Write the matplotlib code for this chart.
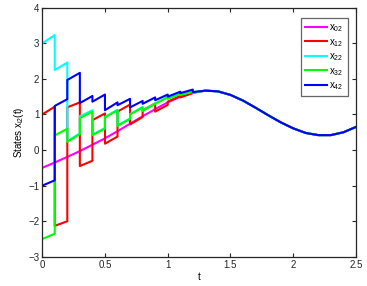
import matplotlib
matplotlib.use('Agg')
import matplotlib.pyplot as plt

plt.rcParams['font.family'] = ['Liberation Sans', 'DejaVu Sans']
plt.rcParams['mathtext.fontset'] = 'custom'
plt.rcParams['mathtext.rm'] = 'Liberation Sans'
plt.rcParams['mathtext.it'] = 'Liberation Sans'

# leader trajectory x02
t_lead = [0.0, 0.1, 0.2, 0.3, 0.4, 0.5, 0.6, 0.7, 0.8, 0.9, 1.0, 1.1, 1.2,
          1.3, 1.4, 1.5, 1.6, 1.7, 1.8, 1.9, 2.0, 2.1, 2.2, 2.3, 2.4, 2.5]
x0 = [-0.50, -0.35, -0.19, -0.03, 0.15, 0.33, 0.53, 0.74, 0.95, 1.15, 1.34, 1.50, 1.61,
      1.67, 1.65, 1.55, 1.39, 1.19, 0.98, 0.78, 0.61, 0.48, 0.42, 0.42, 0.50, 0.65]

# impulse instants and follower values just before / after each jump
t_imp = [0.1, 0.2, 0.3, 0.4, 0.5, 0.6, 0.7, 0.8, 0.9, 1.0, 1.1, 1.2]

red_start = 1.00
red_before = [1.22, -2.00, 1.34, -0.30, 1.03, 0.38, 1.28, 0.93, 1.31, 1.27, 1.52, 1.60]
red_after = [-2.13, 1.20, -0.45, 0.84, 0.18, 1.08, 0.72, 1.12, 1.08, 1.36, 1.48, 1.61]

cyan_start = 3.00
cyan_before = [3.23, 2.46, 0.47, 1.12, 0.62, 1.13, 0.89, 1.21, 1.31, 1.49, 1.59, 1.64]
cyan_after = [2.25, 0.25, 0.95, 0.44, 0.93, 0.69, 1.01, 1.11, 1.31, 1.45, 1.56, 1.62]

green_start = -2.50
green_before = [-2.35, 0.60, 0.45, 1.08, 0.60, 1.12, 0.88, 1.20, 1.30, 1.48, 1.58, 1.64]
green_after = [0.41, 0.23, 0.90, 0.42, 0.92, 0.68, 1.00, 1.10, 1.30, 1.44, 1.55, 1.62]

blue_start = -1.00
blue_before = [-0.85, 1.43, 2.17, 1.52, 1.56, 1.34, 1.44, 1.38, 1.48, 1.56, 1.64, 1.70]
blue_after = [1.24, 1.97, 1.32, 1.36, 1.12, 1.26, 1.20, 1.30, 1.40, 1.50, 1.60, 1.63]

labels = ['x$_{02}$', 'x$_{12}$', 'x$_{22}$', 'x$_{32}$', 'x$_{42}$']
colors = ['#FF00FF', '#FF0000', '#00FFFF', '#00FF00', '#0000FF']


def follower_path(start, before, after):
    ts, xs = [0.0], [start]
    for tk, b, a in zip(t_imp, before, after):
        ts += [tk, tk]
        xs += [b, a]
    # after synchronisation the follower lies on the leader curve
    for tl, xl in zip(t_lead, x0):
        if tl > t_imp[-1]:
            ts.append(tl)
            xs.append(xl)
    return ts, xs


fig = plt.figure(figsize=(3.67, 2.86), dpi=100)
ax = fig.add_axes([0.115, 0.102, 0.855, 0.871])

lw = 1.5
ax.plot(t_lead, x0, color=colors[0], lw=lw, label=labels[0])
for (s, b, a), c, lab in zip([(red_start, red_before, red_after),
                              (cyan_start, cyan_before, cyan_after),
                              (green_start, green_before, green_after),
                              (blue_start, blue_before, blue_after)],
                             colors[1:], labels[1:]):
    ts, xs = follower_path(s, b, a)
    ax.plot(ts, xs, color=c, lw=lw, label=lab)

ax.set_xlim(0, 2.5)
ax.set_ylim(-3, 4)
ax.set_xticks([0, 0.5, 1, 1.5, 2, 2.5])
ax.set_xticklabels(['0', '0.5', '1', '1.5', '2', '2.5'])
ax.set_yticks(range(-3, 5))
ax.tick_params(direction='in', length=3, width=0.8, labelsize=7, top=True, right=True,
               colors='#262626', pad=2)
for sp in ax.spines.values():
    sp.set_color('#262626')
    sp.set_linewidth(0.9)

ax.set_xlabel('t', fontsize=7, labelpad=2)
ax.set_ylabel('States x$_{\\mathrm{i2}}$(t)', fontsize=7, labelpad=2)

leg = ax.legend(loc='upper right', bbox_to_anchor=(0.973, 0.957), borderaxespad=0,
                fontsize=7, handlelength=2.3, handletextpad=0.2, labelspacing=0.28,
                fancybox=False, frameon=True, borderpad=0.4)
leg.get_frame().set_edgecolor('#404040')
leg.get_frame().set_linewidth(0.9)

fig.savefig('out.png', dpi=100)
